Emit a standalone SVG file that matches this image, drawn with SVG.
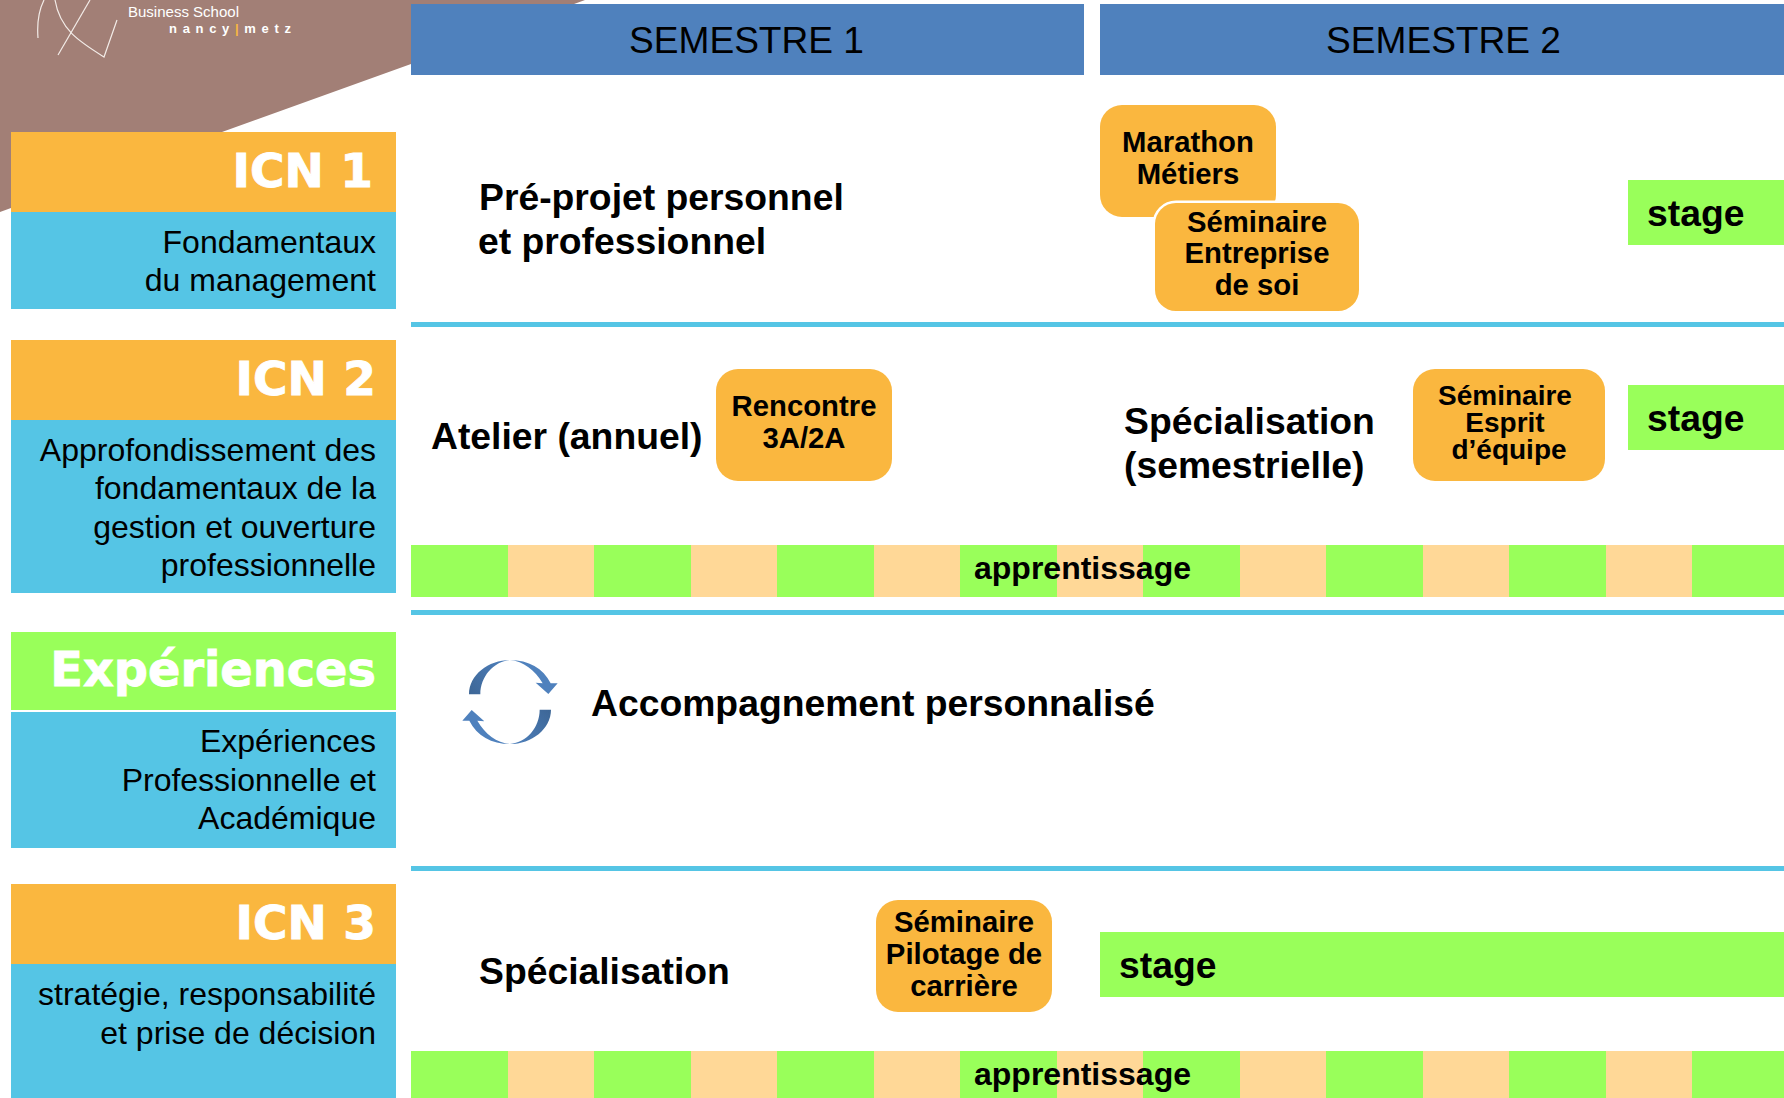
<svg xmlns="http://www.w3.org/2000/svg" width="1784" height="1098" viewBox="0 0 1784 1098">
<style>
text{font-family:"Liberation Sans",Arial,sans-serif;fill:#000}
.o{fill:#fab73f}.b{fill:#55c5e5}.g{fill:#99ff5a}.h{fill:#4f81bd}.p{fill:#ffd897}
.t{font-family:"DejaVu Sans",Verdana,sans-serif;font-weight:700;font-size:47px;fill:#fff;stroke:#fff;stroke-width:.9;text-anchor:end}
.d{font-size:32px;text-anchor:end}
.m{font-size:37.3px;font-weight:700}
.k{font-size:29.3px;font-weight:700;text-anchor:middle}
.s{font-size:37.1px;text-anchor:middle}
.a{font-size:32px;font-weight:700}
.bx{fill:#fab73f}
</style>
<defs>
<linearGradient id="ag" gradientUnits="userSpaceOnUse" x1="207" y1="223" x2="330" y2="120"><stop offset="0" stop-color="#3d6696"/><stop offset="1" stop-color="#4f81bd"/></linearGradient>
<path id="ar" fill="url(#ag)" d="M207,223C207,165 265,120 330,120C385,120 430,145 452,190L473,190L445,222L407,188L428,190C405,150 370,124 330,120C280,125 241,170 241,223Z"/>
<g id="stripes">
<rect class="g" x="411" width="97" height="52"/><rect class="p" x="508" width="86" height="52"/>
<rect class="g" x="594" width="97" height="52"/><rect class="p" x="691" width="86" height="52"/>
<rect class="g" x="777" width="97" height="52"/><rect class="p" x="874" width="86" height="52"/>
<rect class="g" x="960" width="97" height="52"/><rect class="p" x="1057" width="86" height="52"/>
<rect class="g" x="1143" width="97" height="52"/><rect class="p" x="1240" width="86" height="52"/>
<rect class="g" x="1326" width="97" height="52"/><rect class="p" x="1423" width="86" height="52"/>
<rect class="g" x="1509" width="97" height="52"/><rect class="p" x="1606" width="86" height="52"/>
<rect class="g" x="1692" width="92" height="52"/>
</g>
</defs>
<rect width="1784" height="1098" fill="#fff"/>
<g id="logo">
<polygon points="0,0 585,0 411,64 222,132 11,208 0,212" fill="#a27f76"/>
<g fill="none" stroke="#f3ece8" stroke-width="1.2"><path d="M38,38C37,25 38,12 44,0"/><path d="M55,0C60,30 80,42 104,57L117,20"/><path d="M58,55L90,0"/></g>
<text x="128" y="17" font-size="15" textLength="111" lengthAdjust="spacingAndGlyphs" style="fill:#fff">Business School</text>
<text x="169" y="33" font-size="13" font-weight="700" textLength="122" style="fill:#fff">nancy<tspan style="fill:#fab73f">|</tspan>metz</text>
</g>
<g id="semestre1"><rect class="h" x="411" y="4" width="673" height="71"/><text class="s" x="746.500" y="53">SEMESTRE 1</text></g>
<g id="semestre2"><rect class="h" x="1100" y="4" width="684" height="71"/><text class="s" x="1443.500" y="53">SEMESTRE 2</text></g>
<g id="icn1"><rect class="o" x="11" y="132" width="385" height="80"/><rect class="b" x="11" y="212" width="385" height="97"/>
<text class="t" x="373" y="187">ICN 1</text><text class="d" x="376" y="253">Fondamentaux</text><text class="d" x="376" y="291">du management</text></g>
<g id="icn2"><rect class="o" x="11" y="340" width="385" height="80"/><rect class="b" x="11" y="420" width="385" height="173"/>
<text class="t" x="376" y="395">ICN 2</text><text class="d" x="376" y="461">Approfondissement des</text><text class="d" x="376" y="499">fondamentaux de la</text><text class="d" x="376" y="538">gestion et ouverture</text><text class="d" x="376" y="576">professionnelle</text></g>
<g id="experiences"><rect class="g" x="11" y="632" width="385" height="78"/><rect class="b" x="11" y="712" width="385" height="136"/>
<text class="t" x="376" y="686" style="font-size:47.8px">Expériences</text><text class="d" x="376" y="752">Expériences</text><text class="d" x="376" y="791">Professionnelle et</text><text class="d" x="376" y="829">Académique</text></g>
<g id="icn3"><rect class="o" x="11" y="884" width="385" height="80"/><rect class="b" x="11" y="964" width="385" height="134"/>
<text class="t" x="376" y="939">ICN 3</text><text class="d" x="376" y="1005">stratégie, responsabilité</text><text class="d" x="376" y="1044">et prise de décision</text></g>
<g id="connectors" class="b"><rect x="411" y="322" width="1373" height="5"/><rect x="411" y="610" width="1373" height="5"/><rect x="411" y="866" width="1373" height="5"/></g>
<g id="preprojet"><text class="m" x="479" y="210">Pré-projet personnel</text><text class="m" x="478" y="254">et professionnel</text></g>
<g id="marathon"><rect class="bx" x="1100" y="105" width="176" height="112" rx="22"/><text class="k" x="1188" y="152">Marathon</text><text class="k" x="1188" y="184">Métiers</text></g>
<g id="entreprise"><rect class="bx" x="1155" y="203" width="204" height="108" rx="21" stroke="#fff" stroke-width="5" paint-order="stroke"/><text class="k" x="1257" y="232">Séminaire</text><text class="k" x="1257" y="263">Entreprise</text><text class="k" x="1257" y="295">de soi</text></g>
<g id="stage1"><rect class="g" x="1628" y="180" width="156" height="65"/><text class="m" x="1647" y="226">stage</text></g>
<g id="atelier"><text class="m" x="431" y="449">Atelier (annuel)</text></g>
<g id="rencontre"><rect class="bx" x="716" y="369" width="176" height="112" rx="22"/><text class="k" x="804" y="416">Rencontre</text><text class="k" x="804" y="448">3A/2A</text></g>
<g id="specialisation2"><text class="m" x="1124" y="434">Spécialisation</text><text class="m" x="1124" y="478">(semestrielle)</text></g>
<g id="esprit"><rect class="bx" x="1413" y="369" width="192" height="112" rx="22"/><text class="k" x="1505" y="405" style="font-size:28px">Séminaire</text><text class="k" x="1505" y="432" style="font-size:28px">Esprit</text><text class="k" x="1509" y="459" style="font-size:28px">d’équipe</text></g>
<g id="stage2"><rect class="g" x="1628" y="385" width="156" height="65"/><text class="m" x="1647" y="431">stage</text></g>
<g id="apprentissage1"><use href="#stripes" y="545"/><text class="a" x="974" y="579">apprentissage</text></g>
<g id="accompagnement"><g transform="translate(400,620) scale(.33333)"><use href="#ar"/><use href="#ar" transform="rotate(180 330 246)"/></g><text class="m" x="591" y="716">Accompagnement personnalisé</text></g>
<g id="specialisation3"><text class="m" x="479" y="984">Spécialisation</text></g>
<g id="pilotage"><rect class="bx" x="876" y="900" width="176" height="112" rx="22"/><text class="k" x="964" y="932">Séminaire</text><text class="k" x="964" y="964">Pilotage de</text><text class="k" x="964" y="996">carrière</text></g>
<g id="stage3"><rect class="g" x="1100" y="932" width="684" height="65"/><text class="m" x="1119" y="978">stage</text></g>
<g id="apprentissage2"><use href="#stripes" y="1051"/><text class="a" x="974" y="1085">apprentissage</text></g>
</svg>
